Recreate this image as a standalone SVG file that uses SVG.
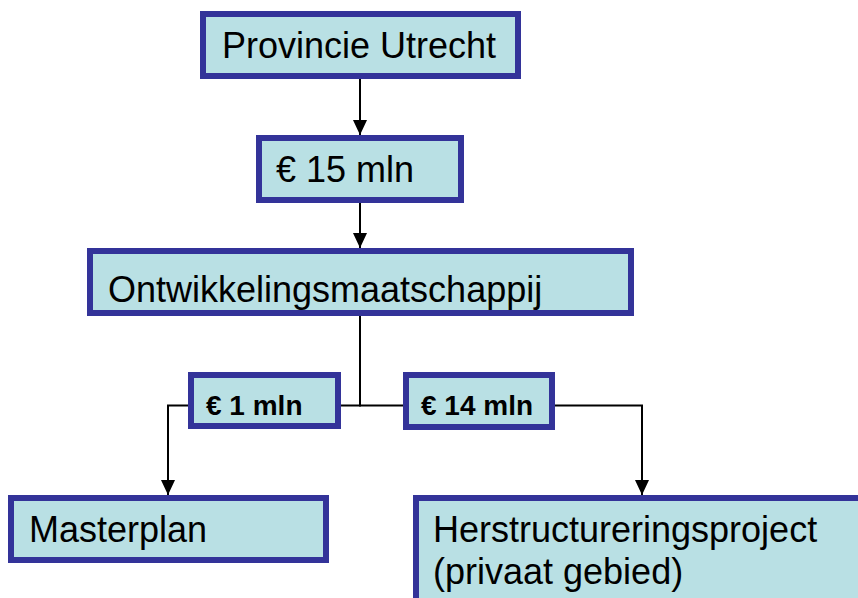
<svg xmlns="http://www.w3.org/2000/svg" width="858" height="598" viewBox="0 0 858 598">
<style>
.box{fill:#B9E0E4;stroke:#333399;stroke-width:6}
.t{font-family:"Liberation Sans",Arial,sans-serif;font-size:36px;fill:#000}
.lt{font-family:"Liberation Sans",Arial,sans-serif;font-size:28px;font-weight:bold;fill:#000}
.c{fill:none;stroke:#000;stroke-width:2}
</style>
<defs>
<marker id="arr" markerUnits="userSpaceOnUse" markerWidth="16" markerHeight="16" viewBox="0 0 16 16" refX="15" refY="8" orient="auto">
<path d="M0,1 L15,8 L0,15 Z" fill="#000"/>
</marker>
</defs>
<rect width="858" height="598" fill="#fff"/>
<g id="connectors">
<line class="c" x1="360" y1="79" x2="360" y2="135" marker-end="url(#arr)"/>
<line class="c" x1="360" y1="203" x2="360" y2="248" marker-end="url(#arr)"/>
<line class="c" x1="360" y1="316" x2="360" y2="405.5"/>
<polyline class="c" points="361,405.5 168,405.5 168,495" marker-end="url(#arr)"/>
<polyline class="c" points="359,405.5 642,405.5 642,495" marker-end="url(#arr)"/>
</g>
<g id="provincie">
<rect class="box" x="203" y="14" width="315" height="62"/>
<text class="t" x="222" y="58">Provincie Utrecht</text>
</g>
<g id="budget15">
<rect class="box" x="259" y="138" width="202" height="62"/>
<text class="t" x="276" y="182">€ 15 mln</text>
</g>
<g id="ontwikkeling">
<rect class="box" x="90" y="251" width="541" height="62"/>
<text class="t" x="108" y="302">Ontwikkelingsmaatschappij</text>
</g>
<g id="label1">
<rect class="box" x="191" y="375" width="147" height="51"/>
<text class="lt" x="206" y="415">€ 1 mln</text>
</g>
<g id="label14">
<rect class="box" x="406" y="375" width="146" height="52"/>
<text class="lt" x="421" y="415">€ 14 mln</text>
</g>
<g id="masterplan">
<rect class="box" x="11" y="498" width="315" height="62"/>
<text class="t" x="29" y="542">Masterplan</text>
</g>
<g id="herstructurering">
<rect class="box" x="416" y="498" width="470" height="130"/>
<text class="t" x="433" y="542">Herstructureringsproject<tspan x="433" y="584">(privaat gebied)</tspan></text>
</g>
</svg>
